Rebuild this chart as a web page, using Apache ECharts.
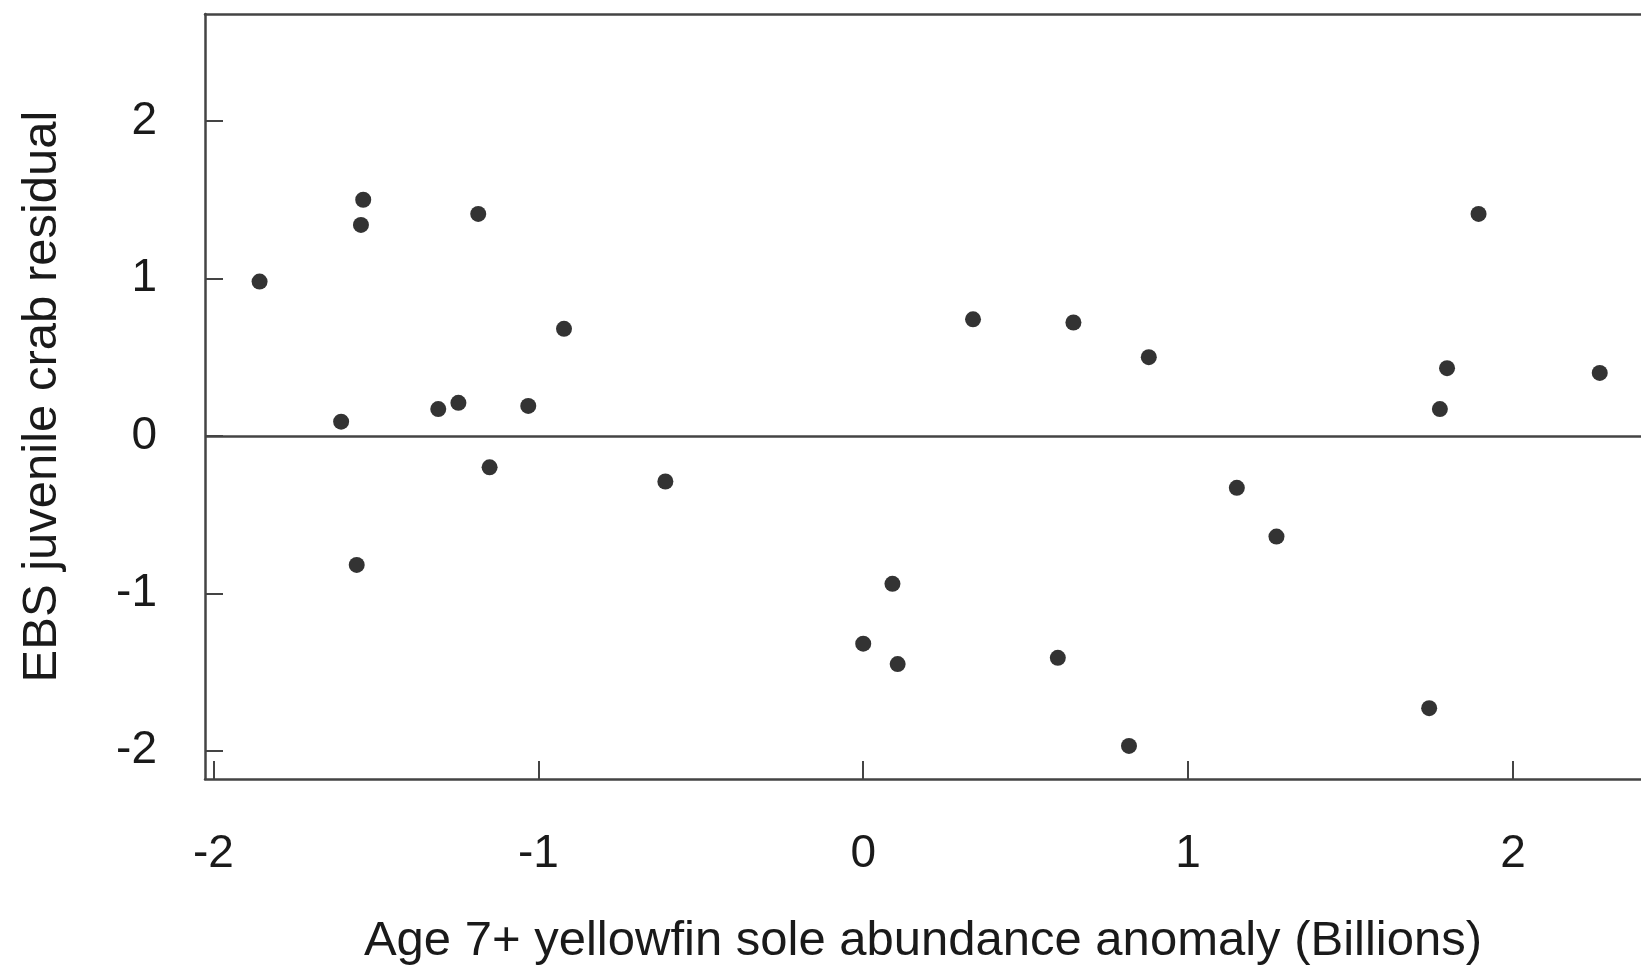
<!DOCTYPE html>
<html lang="en">
<head>
    <meta charset="UTF-8">
    <title>EBS juvenile crab residual vs yellowfin sole abundance</title>
    <script src="https://cdn.jsdelivr.net/npm/echarts@6/dist/echarts.min.js"></script>
    <style>
        body { margin: 0; background: #fff; }
        #chart { width: 1641px; height: 971px; }
    </style>
</head>
<body>
    <div id="chart"></div>
    <script>
        // Age 7+ yellowfin sole abundance anomaly (billions)
        const soleAnomaly = [
            -1.858, -1.539, -1.546, -1.185, -0.921, -1.607, -1.308, -1.246, -1.031,
            -1.150, -0.609, -1.559, 0.338, 0.647, 0.879, 1.894, 1.797, 1.775,
            2.267, 1.150, 1.272, 0.090, 0.000, 0.106, 0.599, 0.818, 1.742
        ];
        // EBS juvenile crab residual
        const crabResidual = [
            0.98, 1.50, 1.34, 1.41, 0.68, 0.09, 0.17, 0.21, 0.19,
            -0.20, -0.29, -0.82, 0.74, 0.72, 0.50, 1.41, 0.43, 0.17,
            0.40, -0.33, -0.64, -0.94, -1.32, -1.45, -1.41, -1.97, -1.73
        ];
        const xTicks = [-2, -1, 0, 1, 2];
        const yTicks = [-2, -1, 0, 1, 2];

        const chart = echarts.init(document.getElementById('chart'));
        const lineColor = '#444';
        const textColor = '#1a1a1a';
        const font = 'Arial, "Liberation Sans", sans-serif';

        const points = soleAnomaly.map((x, i) => [x, crabResidual[i]]);

        chart.setOption({
            animation: false,
            backgroundColor: '#fff',
            grid: {
                left: 205,
                top: 14,
                right: 0,
                bottom: 190
            },
            xAxis: [{
                type: 'value',
                min: -2.026,
                max: 2.394,
                name: 'Age 7+ yellowfin sole abundance anomaly (Billions)',
                nameLocation: 'middle',
                nameGap: 138,
                nameTextStyle: { fontSize: 49, color: textColor, fontFamily: font },
                axisLine: { show: true, onZero: false, lineStyle: { color: lineColor, width: 2.5 } },
                axisTick: { show: true, inside: true, length: 18, customValues: xTicks,
                    lineStyle: { color: lineColor, width: 2 } },
                axisLabel: { customValues: xTicks, fontSize: 46, color: textColor,
                    fontFamily: font, margin: 52 },
                splitLine: { show: false }
            }, {
                // top frame line only
                type: 'value',
                position: 'top',
                min: -2.026,
                max: 2.394,
                axisLine: { show: true, onZero: false, lineStyle: { color: lineColor, width: 2.5 } },
                axisTick: { show: false },
                axisLabel: { show: false },
                splitLine: { show: false }
            }],
            yAxis: {
                type: 'value',
                min: -2.18,
                max: 2.68,
                name: 'EBS juvenile crab residual',
                nameLocation: 'middle',
                nameGap: 138,
                nameTextStyle: { fontSize: 49, color: textColor, fontFamily: font },
                axisLine: { show: true, onZero: false, lineStyle: { color: lineColor, width: 2.5 } },
                axisTick: { show: true, inside: true, length: 18, customValues: yTicks,
                    lineStyle: { color: lineColor, width: 2 } },
                axisLabel: { customValues: yTicks, fontSize: 46, color: textColor,
                    fontFamily: font, margin: 48 },
                splitLine: { show: false }
            },
            series: [{
                type: 'scatter',
                data: points,
                symbolSize: 16,
                itemStyle: { color: '#000' },
                markLine: {
                    silent: true,
                    symbol: 'none',
                    label: { show: false },
                    lineStyle: { color: lineColor, width: 2.5, type: 'solid' },
                    data: [{ yAxis: 0 }]
                }
            }]
        });
    </script>
</body>
</html>
